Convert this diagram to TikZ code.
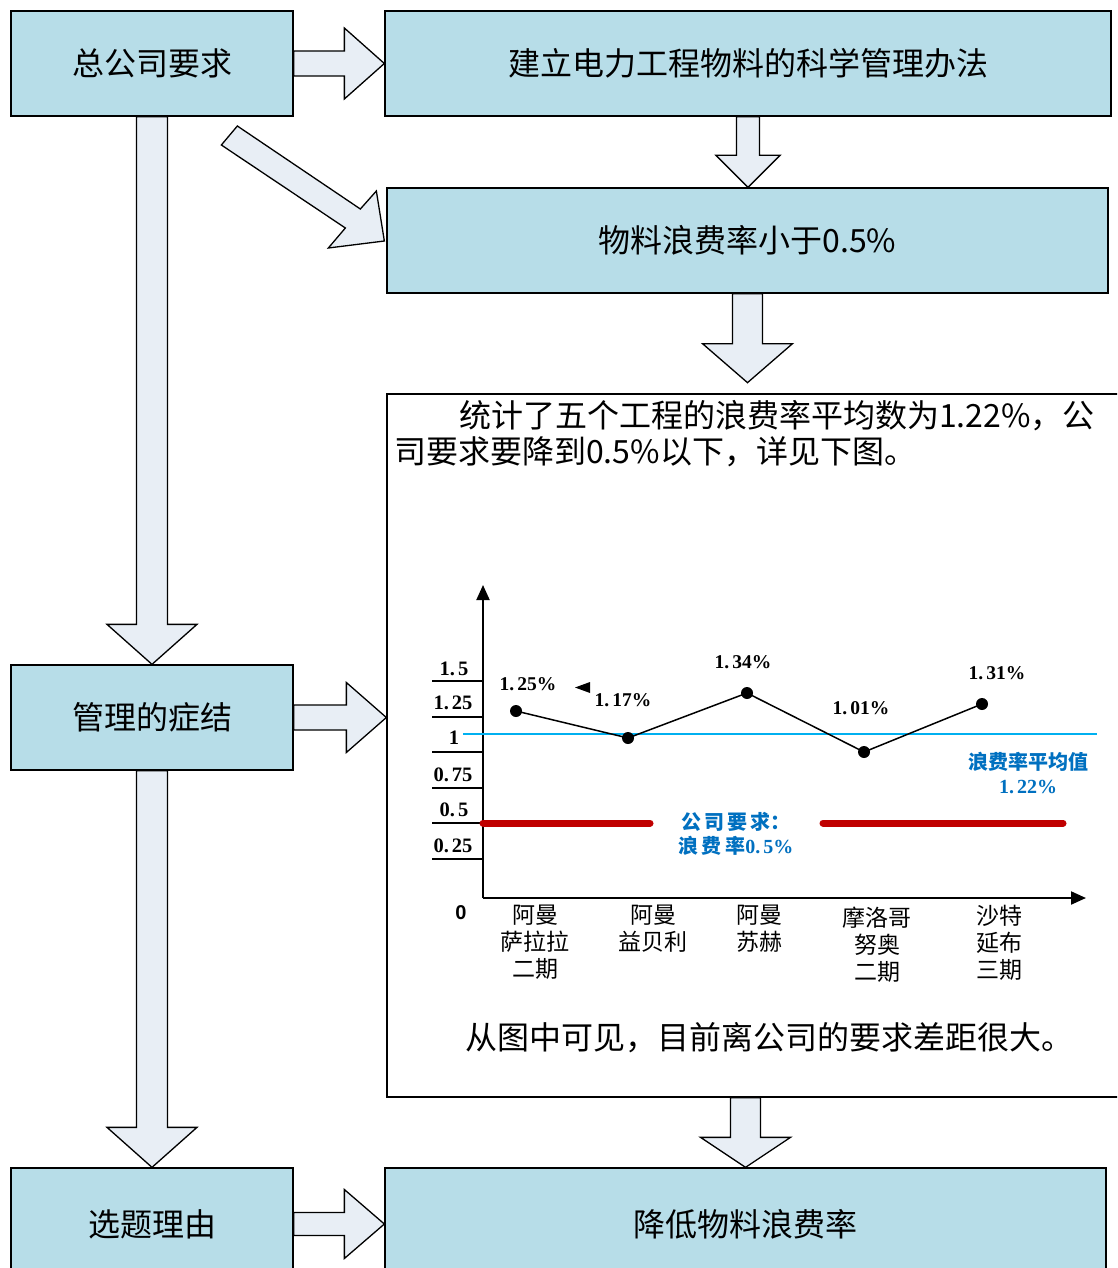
\documentclass[tikz,border=0pt]{standalone}
\usepackage{fontspec}
\setmainfont{Noto Sans CJK SC}
\newfontfamily\numfont{Liberation Serif}
\newfontfamily\zerofont{Liberation Sans}
\usetikzlibrary{calc,arrows.meta}
\definecolor{boxblue}{RGB}{183,221,232}
\definecolor{arrfill}{RGB}{232,238,245}
\definecolor{cyanl}{RGB}{0,176,240}
\definecolor{redl}{RGB}{192,0,0}
\definecolor{bluet}{RGB}{0,112,192}
\tikzset{
  bx/.style={draw=black,line width=1.3pt,fill=boxblue,inner sep=0pt,minimum width=282pt,minimum height=105pt,font=\fontsize{32}{38}\selectfont},
  blk/.style={draw=black,line width=1.3pt,fill=arrfill,line join=miter},
  ylab/.style={font=\numfont\bfseries\fontsize{20.5}{24}\selectfont,inner sep=0pt},
  vlab/.style={font=\numfont\bfseries\fontsize{19.5}{22}\selectfont,inner sep=0pt},
  xlab/.style={font=\fontsize{23}{27}\selectfont,align=center,anchor=north,inner sep=0pt},
  btxt/.style={text=bluet,font=\bfseries\fontsize{20}{24}\selectfont,align=center,inner sep=0pt},
  dot/.style={circle,fill=black,inner sep=0pt,minimum size=12pt},
}
\newcommand\arrD[5]{\draw[blk] ($(#1)+(-#3,0)$) -- ($(#2)+(-#3,-#5)$) -- ($(#2)+(-#4,-#5)$) -- (#2) -- ($(#2)+(#4,-#5)$) -- ($(#2)+(#3,-#5)$) -- ($(#1)+(#3,0)$) -- cycle;}
\newcommand\arrR[5]{\draw[blk] ($(#1)+(0,-#3)$) -- ($(#2)+(-#5,-#3)$) -- ($(#2)+(-#5,-#4)$) -- (#2) -- ($(#2)+(-#5,#4)$) -- ($(#2)+(-#5,#3)$) -- ($(#1)+(0,#3)$) -- cycle;}
\begin{document}
\begin{tikzpicture}[x=1pt,y=-1pt]
\useasboundingbox (0,0) rectangle (1117,1268);
\clip (0,0) rectangle (1117,1268);
% boxes
\node[bx] (A) at (152,63.5) {总公司要求};
\node[bx,minimum width=726pt] (B) at (748,63.5) {建立电力工程物料的科学管理办法};
\node[bx,minimum width=721pt] (C) at (747.5,240.5) {物料浪费率小于0.5\%};
\node[draw=black,line width=1.3pt,fill=white,minimum width=740pt,minimum height=703pt,inner sep=0pt] (D) at (757,745.5) {};
\node[bx] (E) at (152,717.5) {管理的症结};
\node[bx,minimum height=112pt] (F) at (152,1224) {选题理由};
\node[bx,minimum width=721pt,minimum height=112pt] (G) at (745.5,1224) {降低物料浪费率};
% arrow helper coordinates
\coordinate (bcs) at (B.south);
\coordinate (bct) at (B.south |- C.north);
\coordinate (cds) at (C.south);
\coordinate (cdt) at ($(C.south)+(0,89)$);
\coordinate (edt) at (E.east -| D.west);
\coordinate (dgs) at (G.north |- D.south);
% block arrows
\arrR{A.east}{B.west}{12.5}{35.5}{40}
\arrD{bcs}{bct}{11.5}{32}{32}
\arrD{cds}{cdt}{15}{45}{39}
\arrD{A.south}{E.north}{15.5}{45}{40}
\arrR{E.east}{edt}{12.5}{35}{40}
\arrD{E.south}{F.north}{15.5}{45}{40}
\arrD{dgs}{G.north}{15}{45}{30}
\arrR{F.east}{G.west}{11.5}{34.5}{40}
\draw[blk] ($(C.west)+(-149,-114.5)$) -- ($(C.west)+(-26,-31.5)$) -- ($(C.west)+(-10,-49.5)$) -- ($(C.west)+(-2,0.5)$) -- ($(C.west)+(-58,7.5)$) -- ($(C.west)+(-41,-12.5)$) -- ($(C.west)+(-165,-95.5)$) -- cycle;
% text in D
\node[anchor=north west,align=left,inner sep=0pt,font=\fontsize{32}{36}\selectfont] (Dtxt) at (394,400) {\hspace*{65pt}统计了五个工程的浪费率平均数为1.22\%，公\\司要求要降到0.5\%以下，详见下图。};
\node[inner sep=0pt,font=\fontsize{32}{36}\selectfont] (Dbot) at (769,1038) {从图中可见，目前离公司的要求差距很大。};
% chart
\coordinate (O) at (483,898);
\coordinate (Ytop) at (483,585);
\coordinate (Xend) at (1086,898);
\draw[line width=2pt,-{Triangle[length=15pt,width=13pt]}] (O) -- (Ytop);
\draw[line width=2pt,-{Triangle[length=15pt,width=13pt]}] (O) -- (Xend);
\foreach \yy in {681,717,752,788,823,859} \draw[line width=1.5pt] (432,\yy) -- (483,\yy);
\node[ylab] (y1) at (454,669) {1.\kern3pt 5};
\node[ylab] (y2) at (453,703) {1.\kern3pt 25};
\node[ylab] (y3) at (454,738) {1};
\node[ylab] (y4) at (453,775) {0.\kern3pt 75};
\node[ylab] (y5) at (454,810) {0.\kern3pt 5};
\node[ylab] (y6) at (453,846) {0.\kern3pt 25};
\node[font=\zerofont\bfseries\fontsize{20}{24}\selectfont,inner sep=0pt] (y0) at (461,913) {0};
% average line
\coordinate (c1) at (463,734);
\coordinate (c2) at (1097,734);
\draw[cyanl,line width=1.5pt] (c1) -- (c2);
% requirement line
\coordinate (r1) at (483,823);
\coordinate (r2) at (650,823);
\coordinate (r3) at (823,823);
\coordinate (r4) at (1063,823);
\draw[redl,line width=7pt,line cap=round] (r1) -- (r2);
\draw[redl,line width=7pt,line cap=round] (r3) -- (r4);
% data
\node[dot] (p1) at (516,711) {};
\node[dot] (p2) at (628,738) {};
\node[dot] (p3) at (747,693) {};
\node[dot] (p4) at (864,752) {};
\node[dot] (p5) at (982,704) {};
\draw[line width=1.5pt] (p1.center) -- (p2.center) -- (p3.center) -- (p4.center) -- (p5.center);
\node[vlab] (v1) at (528,684) {1.\kern3pt 25\%};
\node[vlab] (v2) at (623,700) {1.\kern3pt 17\%};
\node[vlab] (v3) at (743,662) {1.\kern3pt 34\%};
\node[vlab] (v4) at (861,708) {1.\kern3pt 01\%};
\node[vlab] (v5) at (997,673) {1.\kern3pt 31\%};
\fill (575,687.5) -- (590,682) -- (590,693) -- cycle;
% blue labels
\node[btxt] (req) at (736,834) {公\,司\,要\,求：\\浪\,费\,率{\numfont 0.\kern3pt 5\%}};
\node[btxt] (avg) at (1028,773) {浪费率平均值\\{\numfont 1.\kern3pt 22\%}};
% x labels
\node[xlab] (x1) at (535,905) {阿曼\\萨拉拉\\二期};
\node[xlab] (x2) at (653,905) {阿曼\\益贝利};
\node[xlab] (x3) at (759,905) {阿曼\\苏赫};
\node[xlab] (x4) at (877,907) {摩洛哥\\努奥\\二期};
\node[xlab] (x5) at (999,905) {沙特\\延布\\三期};
\end{tikzpicture}
\end{document}
